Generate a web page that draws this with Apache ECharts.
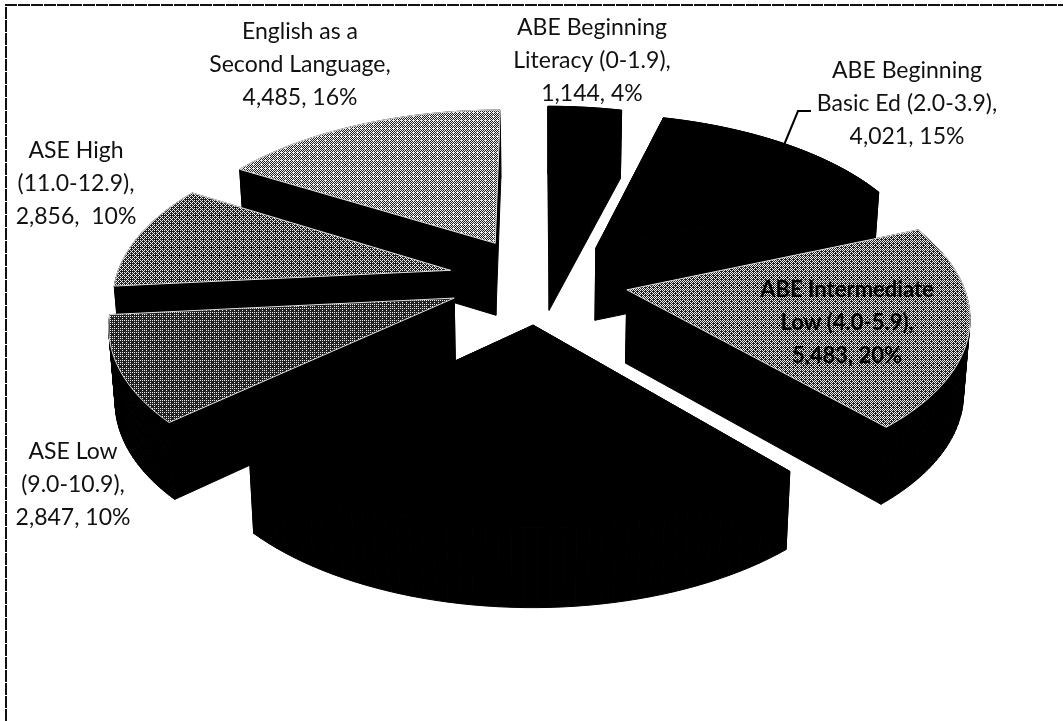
<!DOCTYPE html>
<html>
<head>
<meta charset="utf-8">
<style>html,body{margin:0;padding:0;background:#fff}#c{width:1063px;height:721px}</style>
<script src="https://cdn.jsdelivr.net/npm/echarts@6/dist/echarts.min.js"></script>
</head>
<body>
<div id="c"></div>
<script>
// ---- data ----
const categories = [
  'ABE Beginning Literacy (0-1.9)',
  'ABE Beginning Basic Ed (2.0-3.9)',
  'ABE Intermediate Low (4.0-5.9)',
  'ABE Intermediate High (6.0-8.9)',
  'ASE Low (9.0-10.9)',
  'ASE High (11.0-12.9)',
  'English as a Second Language'
];
const values = [1144, 4021, 5483, 6800, 2847, 2856, 4485];
const labelTexts = [
  'ABE Beginning\nLiteracy (0-1.9),\n1,144, 4%',
  'ABE Beginning\nBasic Ed (2.0-3.9),\n4,021, 15%',
  'ABE Intermediate\nLow (4.0-5.9),\n5,483, 20%',
  'ABE Intermediate\nHigh (6.0-8.9),\n6,800, 25%',
  'ASE Low\n(9.0-10.9),\n2,847, 10%',
  'ASE High\n(11.0-12.9),\n2,856,  10%',
  'English as a\nSecond Language,\n4,485, 16%'
];
// ---- layout and style ----
const labelCentres = [[592,61],[907,104],[847,323],[520,451],[73,485],[76,184],[300,65]];
const topFill = [[0,0],[0,0],[1,.42],[0,0],[1,.2],[1,.36],[1,.54]];
const view = {cx:538, cy:280, rx:335, ry:161, persp:.138, explode:.27};

function dither(level){
  const n=8, cv=document.createElement('canvas'); cv.width=cv.height=n;
  const g=cv.getContext('2d');
  const bayer=[[0,32,8,40,2,34,10,42],[48,16,56,24,50,18,58,26],[12,44,4,36,14,46,6,38],[60,28,52,20,62,30,54,22],
               [3,35,11,43,1,33,9,41],[51,19,59,27,49,17,57,25],[15,47,7,39,13,45,5,37],[63,31,55,23,61,29,53,21]];
  for(let y=0;y<n;y++)for(let x=0;x<n;x++){
    g.fillStyle=(bayer[y][x]+.5)/64<level?'#eee':'#222';
    g.fillRect(x,y,1,1);
  }
  return cv;
}
const total = values.reduce((a,b)=>a+b,0);
let run=0;
const slices = values.map((v,i)=>{
  const a0=run/total*2*Math.PI; run+=v;
  const a1=run/total*2*Math.PI, mid=(a0+a1)/2;
  return {i,a0,a1,mid};
});
// draw from back to front
const order = slices.slice().sort((p,q)=>(-Math.cos(p.mid))-(-Math.cos(q.mid)));

function project(u,v,low){
  const s=1/(1-view.persp*v);
  const d=low?41+32*s:0, shrink=low?.985:1;
  return [view.cx+view.rx*u*s*shrink, view.cy+view.ry*v*s+d];
}
function renderSlice(params,api){
  const sl=slices[api.value(0)];
  const ou=view.explode*Math.sin(sl.mid), ov=-view.explode*Math.cos(sl.mid);
  const rim=[], N=48;
  for(let k=0;k<=N;k++){
    const t=sl.a0+(sl.a1-sl.a0)*k/N;
    rim.push([ou+Math.sin(t),ov-Math.cos(t)]);
  }
  const top=[[ou,ov],...rim].map(p=>project(p[0],p[1],false));
  const body=[];
  const wall=(pts)=>{
    for(let k=0;k<pts.length-1;k++){
      const a=pts[k],b=pts[k+1];
      body.push({type:'polygon',shape:{points:[project(a[0],a[1],false),project(b[0],b[1],false),project(b[0],b[1],true),project(a[0],a[1],true)]},
        style:{fill:'#000',stroke:'#000',lineWidth:1}});
    }
  };
  wall([[ou,ov],rim[0]]);
  wall([[ou,ov],rim[N]]);
  wall(rim);
  const f=topFill[sl.i];
  body.push({type:'polygon',shape:{points:top},
    style:f[0]?{fill:{image:dither(f[1]),repeat:'repeat'},stroke:'#ddd',lineWidth:1}:{fill:'#000',stroke:'#000',lineWidth:1}});
  return {type:'group',children:body};
}
const chart=echarts.init(document.getElementById('c'),null,{renderer:'canvas'});
chart.setOption({
  animation:false,
  backgroundColor:'#fff',
  series:[{
    type:'custom',
    coordinateSystem:'none',
    silent:true,
    renderItem:renderSlice,
    data:order.map(s=>[s.i,values[s.i]])
  }],
  graphic:{elements:[
    {type:'polyline',shape:{points:[[6,721],[6,5],[1063,5]]},style:{stroke:'#111',lineWidth:2,lineDash:[12,1],fill:null},z:1},
    {type:'polyline',shape:{points:[[784,145],[798,111],[811,111]]},style:{stroke:'#000',lineWidth:2,fill:null},z:10},
    ...labelTexts.map((t,i)=>({
      type:'text',x:labelCentres[i][0],y:labelCentres[i][1],z:20,
      style:Object.assign({text:t,align:'center',verticalAlign:'middle',fontFamily:'Lato',fontSize:23,lineHeight:33,
        fill:i===3?'#000':'#111'}, i===2?{shadowColor:'#fff',shadowBlur:4,fontWeight:'bold',fontSize:22,fill:'#000'}:{})
    }))
  ]}
});
</script>
</body>
</html>
